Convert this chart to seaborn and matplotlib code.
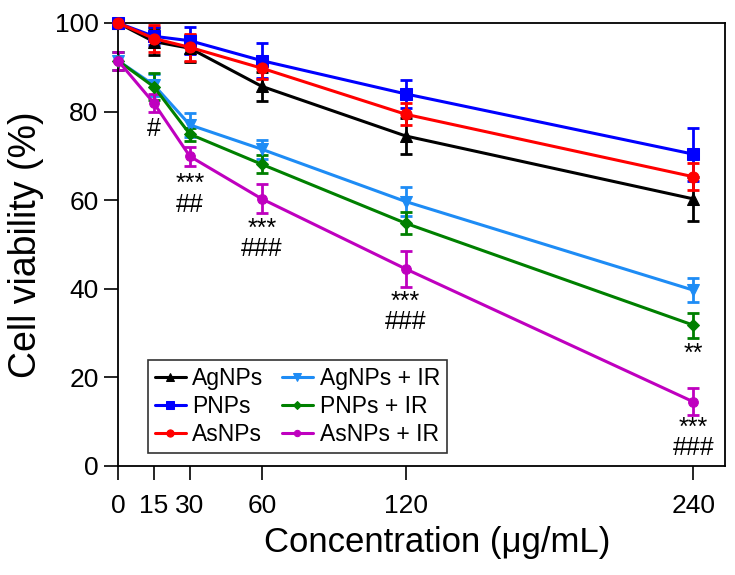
import numpy as np
import pandas as pd
import matplotlib
matplotlib.use('Agg')
import matplotlib.pyplot as plt
import seaborn as sns

# data
conc = [0, 15, 30, 60, 120, 240]
names = ['AgNPs', 'PNPs', 'AsNPs', 'AgNPs + IR', 'PNPs + IR', 'AsNPs + IR']

ag = [100, 95.8, 94.3, 85.7, 74.5, 60.3]
ag_err = [0.5, 3, 3, 3.2, 4, 5]
p = [100, 97.0, 96.0, 91.5, 84.0, 70.4]
p_err = [0.5, 2, 3, 4, 3.2, 6]
asn = [100, 96.5, 94.5, 89.8, 79.4, 65.3]
asn_err = [0.5, 3, 3, 2.5, 2.5, 3]
ag_ir = [91.5, 86.0, 77.0, 71.5, 59.7, 39.7]
ag_ir_err = [2, 2.5, 2.7, 2.2, 3.2, 2.7]
p_ir = [91.5, 85.6, 74.9, 68.1, 54.8, 31.8]
p_ir_err = [2, 3, 1.5, 2, 2.5, 2.8]
as_ir = [91.5, 81.9, 69.9, 60.3, 44.5, 14.5]
as_ir_err = [2, 2, 2.2, 3.3, 4, 3]

# significance marks
marks_x = [15, 30, 60, 120, 240, 240]
marks_y = [76, 61.3, 51.2, 34.8, 25.3, 6.3]
marks_txt = ['#', '***\n##', '***\n###', '***\n###', '**', '***\n###']

series = [ag, p, asn, ag_ir, p_ir, as_ir]
errs = [ag_err, p_err, asn_err, ag_ir_err, p_ir_err, as_ir_err]
colors = ['black', '#0000FF', '#FF0000', '#1E8CF5', '#008000', '#BF00BF']
markers = ['^', 's', 'o', 'v', 'D', 'o']
msizes = [8, 8, 8, 8, 6, 7]

sns.set_style('ticks')
plt.rcParams['font.family'] = ['Liberation Sans', 'DejaVu Sans']
plt.rcParams['text.color'] = 'black'
plt.rcParams['axes.labelcolor'] = 'black'
plt.rcParams['xtick.color'] = 'black'
plt.rcParams['ytick.color'] = 'black'

fig = plt.figure(figsize=(7.35, 5.75), dpi=100)
ax = fig.add_axes([0.1605, 0.1896, 0.826, 0.7704])

for name, vals, err, c, m, ms in zip(names, series, errs, colors, markers, msizes):
    ax.errorbar(conc, vals, yerr=err, fmt='none', ecolor=c, elinewidth=2,
                capsize=4, capthick=2, zorder=2, clip_on=False)
    sns.lineplot(x=conc, y=vals, ax=ax, color=c, marker=m, markersize=ms,
                 markeredgecolor=c, linewidth=2.2, label=name, zorder=3,
                 clip_on=False)

for x, y, t in zip(marks_x, marks_y, marks_txt):
    ax.text(x, y, t, ha='center', va='center', fontsize=18, color='black',
            linespacing=0.8, multialignment='center')

ax.set_xlim(0, 253.3)
ax.set_ylim(0, 100)
ax.set_xticks(conc)
ax.set_xticklabels(['0', '15', '30', '60', '120', '240'])
ax.set_yticks([0, 20, 40, 60, 80, 100])
ax.tick_params(axis='both', direction='out', length=10, width=1.2, labelsize=19)
ax.tick_params(axis='x', pad=10)
ax.tick_params(axis='y', pad=4)
for s in ax.spines.values():
    s.set_linewidth(1.3)
    s.set_color('black')

ax.set_xlabel('Concentration (μg/mL)', fontsize=25)
ax.set_ylabel('Cell viability (%)', fontsize=27, labelpad=8)
ax.xaxis.set_label_coords(0.526, -0.135)

leg = ax.legend(ncol=2, loc='lower left', bbox_to_anchor=(0.049, 0.029),
                borderaxespad=0,
                fontsize=16.5, frameon=True, fancybox=False, edgecolor='black',
                handlelength=1.35, columnspacing=0.8, labelspacing=0.22,
                borderpad=0.3, handletextpad=0.3, markerscale=0.65)
leg.get_frame().set_linewidth(1.2)

fig.savefig('out.png', dpi=100)
